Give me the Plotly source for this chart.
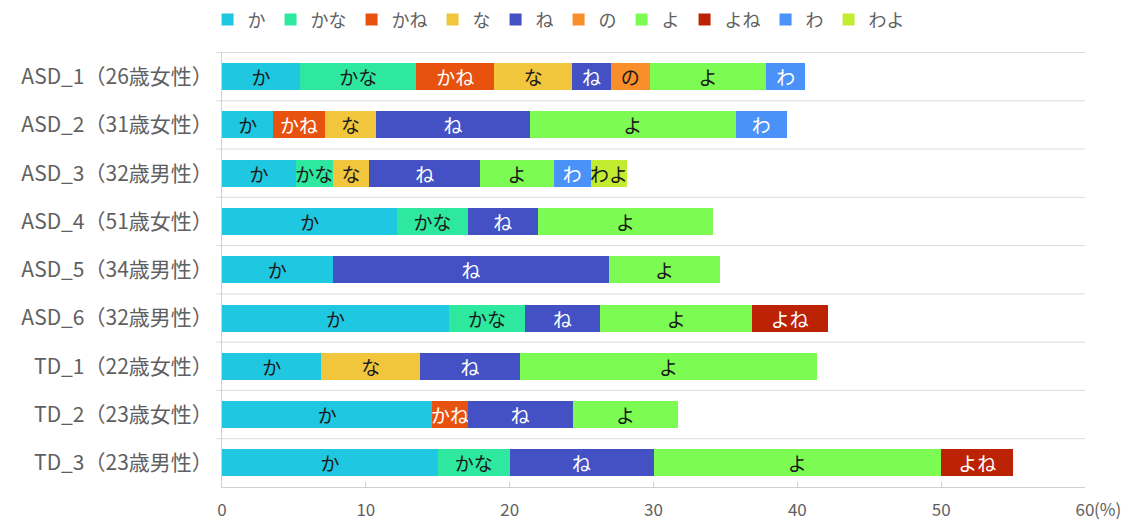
import plotly.graph_objects as go

# Participants (top to bottom)
categories = [
    "ASD_1（26歳女性）", "ASD_2（31歳女性）", "ASD_3（32歳男性）",
    "ASD_4（51歳女性）", "ASD_5（34歳男性）", "ASD_6（32歳男性）",
    "TD_1（22歳女性）", "TD_2（23歳女性）", "TD_3（23歳男性）",
]

# Share of each sentence-final particle (%), None = not used
ka   = [5.41, 3.57, 5.13, 12.20, 7.69, 15.79, 6.90, 14.63, 15.00]
kana = [8.11, None, 2.56, 4.88, None, 5.26, None, None, 5.00]
kane = [5.41, 3.57, None, None, None, None, None, 2.44, None]
na   = [5.41, 3.57, 2.56, None, None, None, 6.90, None, None]
ne   = [2.70, 10.71, 7.69, 4.88, 19.23, 5.26, 6.90, 7.32, 10.00]
no   = [2.70, None, None, None, None, None, None, None, None]
yo   = [8.11, 14.29, 5.13, 12.20, 7.69, 10.53, 20.69, 7.32, 20.00]
yone = [None, None, None, None, None, 5.26, None, None, 5.00]
wa   = [2.70, 3.57, 2.56, None, None, None, None, None, None]
wayo = [None, None, 2.56, None, None, None, None, None, None]

x_ticks = [0, 10, 20, 30, 40, 50, 60]

series = [
    ("か", ka, "#1FC8E0", "#1a1a1a"),
    ("かな", kana, "#2EE8A0", "#1a1a1a"),
    ("かね", kane, "#E8520F", "#ffffff"),
    ("な", na, "#F2C63C", "#1a1a1a"),
    ("ね", ne, "#4351C4", "#ffffff"),
    ("の", no, "#F98F2B", "#1a1a1a"),
    ("よ", yo, "#7CFC52", "#1a1a1a"),
    ("よね", yone, "#BC2204", "#ffffff"),
    ("わ", wa, "#4A91F8", "#ffffff"),
    ("わよ", wayo, "#C2EC30", "#1a1a1a"),
]

font_family = "Noto Sans CJK JP, Noto Sans, sans-serif"
label_gray = "#606060"

fig = go.Figure()
for name, vals, color, tcolor in series:
    fig.add_trace(go.Bar(
        name=name,
        y=categories,
        x=vals,
        orientation="h",
        marker=dict(color=color, line=dict(width=0)),
        text=[name if v is not None else "" for v in vals],
        textposition="inside",
        insidetextanchor="middle",
        textangle=0,
        textfont=dict(color=tcolor, size=19, family=font_family),
        constraintext="none",
        cliponaxis=False,
    ))

# Row separators between participants
shapes = []
for i in range(len(categories)):
    shapes.append(dict(
        type="line", xref="paper", yref="y",
        x0=-0.007, x1=1, y0=i - 0.5, y1=i - 0.5,
        line=dict(color="#dcdcdc", width=1), layer="below",
    ))

fig.update_layout(
    width=1134, height=522,
    margin=dict(l=222, r=49, t=52, b=35, autoexpand=False),
    paper_bgcolor="white", plot_bgcolor="white",
    barmode="stack",
    bargap=0.44,
    font=dict(family=font_family, color=label_gray, size=16),
    uniformtext=dict(minsize=19, mode="show"),
    showlegend=True,
    legend=dict(
        orientation="h", x=0.39, xanchor="center",
        yref="container", y=0.962, yanchor="middle",
        font=dict(size=18, color=label_gray),
        traceorder="normal",
        itemwidth=30,
        bgcolor="rgba(0,0,0,0)",
    ),
    shapes=shapes,
    xaxis=dict(
        range=[0, 60],
        tickvals=x_ticks,
        ticktext=[str(t) for t in x_ticks],
        showgrid=False, zeroline=False,
        showline=True, linecolor="#d0d0d0", linewidth=1,
        ticks="inside", ticklen=5, tickcolor="#d0d0d0",
        ticklabelstandoff=8,
        tickfont=dict(size=17, color=label_gray),
        automargin=False,
        fixedrange=True,
    ),
    yaxis=dict(
        categoryorder="array", categoryarray=categories,
        autorange="reversed",
        showgrid=False, zeroline=False,
        showline=True, linecolor="#d0d0d0", linewidth=1,
        ticks="", ticklabelstandoff=4,
        tickfont=dict(size=21, color=label_gray),
        automargin=False,
        fixedrange=True,
    ),
    annotations=[dict(
        text="(%)", xref="paper", yref="paper", x=1.0, y=0,
        xshift=7, yshift=-21, xanchor="left", yanchor="middle",
        showarrow=False, font=dict(size=17, color=label_gray),
    )],
)

fig.write_html("out.html")
